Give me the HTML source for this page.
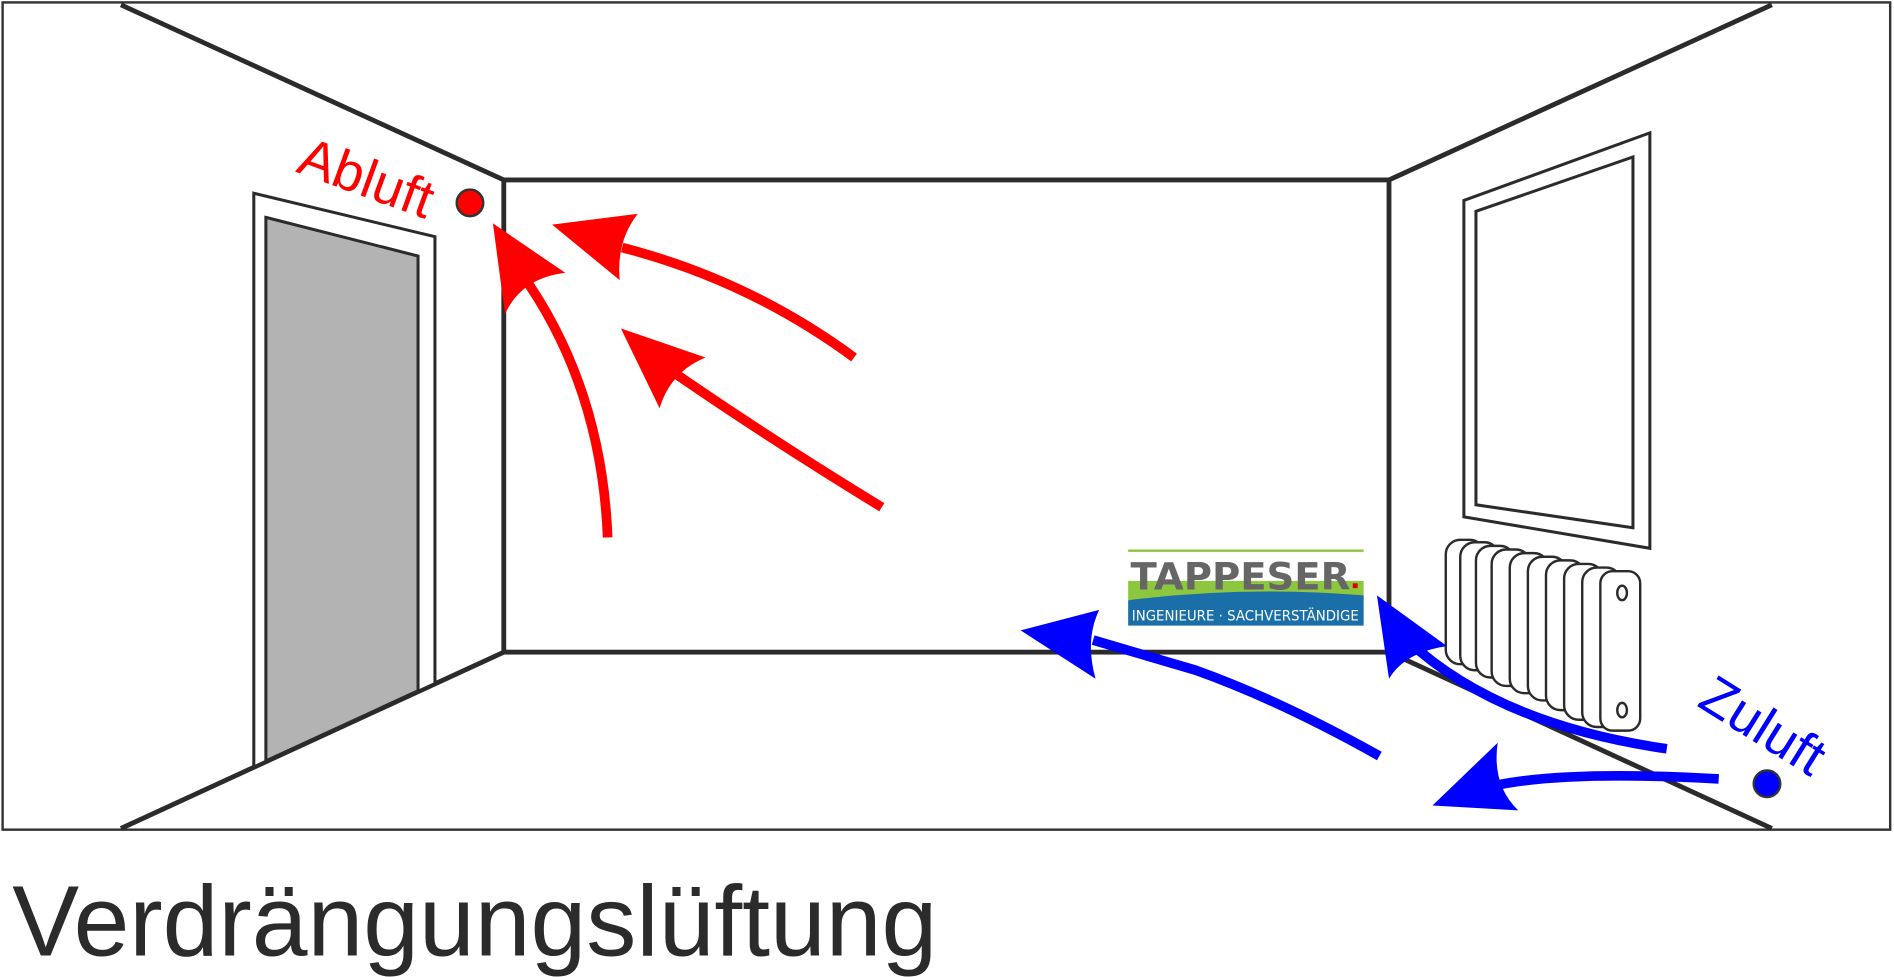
<!DOCTYPE html>
<html><head><meta charset="utf-8"><style>html,body{margin:0;padding:0;background:#fff}svg{display:block}</style></head><body>
<svg width="1894" height="977" viewBox="0 0 1568 809" xmlns="http://www.w3.org/2000/svg">
<rect x="2" y="2" width="1563" height="685" fill="#fff" stroke="#333" stroke-width="2"/>
<g stroke="#2b2b2b" stroke-width="4" fill="none">
<line x1="100" y1="4" x2="417" y2="149"/>
<line x1="1467" y1="4" x2="1150" y2="149"/>
<line x1="100" y1="686" x2="417" y2="540"/>
<line x1="1467" y1="686" x2="1150" y2="540"/>
<rect x="417" y="149" width="733" height="391"/>
</g>
<!-- door -->
<polygon points="210,160 360,196 360,566 210,635" fill="#fff" stroke="#2b2b2b" stroke-width="2.5"/>
<polygon points="220,180 346,212 346,572 220,630" fill="#b3b3b3" stroke="#2b2b2b" stroke-width="2.5"/>
<!-- window -->
<polygon points="1212,166 1366,110 1366,454 1212,428" fill="#fff" stroke="#2b2b2b" stroke-width="2.5"/>
<polygon points="1222,175 1352,130 1352,437 1222,418" fill="#fff" stroke="#2b2b2b" stroke-width="2.5"/>
<!-- radiator -->
<g fill="#fff" stroke="#2b2b2b" stroke-width="2">
<rect x="1197" y="447" width="32" height="103" rx="12"/>
<rect x="1209" y="449" width="32" height="106" rx="12"/>
<rect x="1222" y="452" width="32" height="109" rx="12"/>
<rect x="1235" y="455" width="32" height="113" rx="12"/>
<rect x="1250" y="458" width="32" height="116" rx="12"/>
<rect x="1265" y="461" width="32" height="119" rx="12"/>
<rect x="1280" y="464" width="32" height="124" rx="12"/>
<rect x="1295" y="467" width="32" height="129" rx="12"/>
<rect x="1310" y="470" width="32" height="132" rx="12"/>
<rect x="1325" y="473" width="33" height="132" rx="10"/>
<ellipse cx="1343" cy="491" rx="4" ry="6"/>
<ellipse cx="1343" cy="588" rx="4" ry="6"/>
</g>
<!-- red arrows -->
<g stroke="#ff0000" stroke-width="8" fill="none">
<path d="M707,296 Q620,232 515,205"/>
<path d="M730,420 Q640,365 560,310"/>
<path d="M503,445 Q498,320 432,227"/>
</g>
<g fill="#ff0000">
<path d="M457,186 L528,177 Q510,200 513,232 Z"/>
<path d="M514,272 L584,296 Q555,308 546,338 Z"/>
<path d="M408,185 L468,226 Q432,230 418,260 Z"/>
</g>
<circle cx="389" cy="168" r="11" fill="#ff0000" stroke="#333" stroke-width="2"/>
<text x="244" y="142" font-family="Liberation Sans, sans-serif" font-size="45" fill="#ff0000" transform="rotate(20 244 142)">Abluft</text>
<!-- logo -->
<line x1="934" y1="456" x2="1129" y2="456" stroke="#8dc63f" stroke-width="2"/>
<rect x="934" y="481" width="195" height="16" fill="#8dc63f"/>
<path d="M934,497 Q1030,485 1129,493 L1129,518 L934,518 Z" fill="#1a6fa8"/>
<text x="936" y="488" font-family="DejaVu Sans, sans-serif" font-size="31" font-weight="bold" fill="#666" textLength="182" lengthAdjust="spacingAndGlyphs">TAPPESER</text>
<rect x="1120" y="483" width="4" height="4" fill="#d00"/>
<text x="937" y="514" font-family="DejaVu Sans, sans-serif" font-size="12" fill="#fff" textLength="188" lengthAdjust="spacingAndGlyphs">INGENIEURE · SACHVERSTÄNDIGE</text>
<!-- blue arrows -->
<g stroke="#0000ff" stroke-width="8" fill="none">
<path d="M1142,626 Q1060,580 990,555 L905,530"/>
<path d="M1380,620 Q1240,600 1165,530"/>
<path d="M1423,645 Q1300,638 1240,650"/>
</g>
<g fill="#0000ff">
<path d="M845,522 L910,505 Q898,530 907,562 Z"/>
<path d="M1140,493 L1198,535 Q1163,540 1150,562 Z"/>
<path d="M1186,667 L1257,671 Q1235,650 1240,615 Z"/>
</g>
<circle cx="1463" cy="649" r="11" fill="#0000ff" stroke="#333" stroke-width="2"/>
<text x="1404" y="584" font-family="Liberation Sans, sans-serif" font-size="45" fill="#0000ff" transform="rotate(32 1404 584)">Zuluft</text>
<text x="10" y="791" font-family="Liberation Sans, sans-serif" font-size="83" fill="#2b2b2b">Verdrängungslüftung</text>
</svg>
</body></html>
